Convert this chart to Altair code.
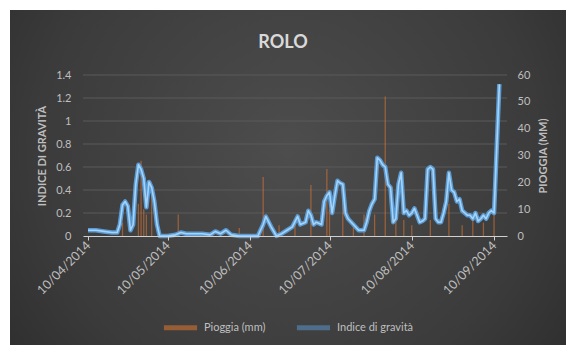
import altair as alt
import pandas as pd

START = pd.Timestamp("2014-04-10")

# Indice di gravità: (giorni dal 10/04/2014, valore)
gravita_giorni = [0, 3, 6, 9, 11, 12, 13, 14, 15, 16, 17, 18, 19, 20, 21, 22, 23, 24, 25, 26,
                  27, 30, 33, 35, 37, 40, 43, 46, 48, 50, 52, 54, 57, 64, 66, 67, 69, 71, 73, 75,
                  77, 79, 80, 82, 83, 84, 85, 86, 88, 89, 90, 91, 92, 93, 94, 95, 96, 97, 98, 100,
                  102, 104, 105, 106, 107, 108, 109, 110, 111, 112, 113, 114, 115, 116, 117, 118,
                  119, 120, 121, 122, 123, 124, 125, 126, 127, 128, 129, 130, 131, 132, 133, 134,
                  135, 136, 137, 138, 139, 140, 141, 142, 143, 144, 145, 146, 147, 148, 149, 150,
                  151, 152, 153, 155]
gravita_valori = [0.05, 0.05, 0.04, 0.03, 0.03, 0.10, 0.27, 0.30, 0.26, 0.05, 0.10, 0.45, 0.62, 0.58,
                  0.50, 0.25, 0.47, 0.42, 0.30, 0.10, 0.00, 0.00, 0.01, 0.03, 0.02, 0.02, 0.02, 0.01,
                  0.04, 0.02, 0.05, 0.01, 0.00, 0.00, 0.10, 0.17, 0.08, 0.00, 0.02, 0.05, 0.08, 0.17,
                  0.10, 0.12, 0.22, 0.18, 0.10, 0.12, 0.10, 0.30, 0.35, 0.38, 0.20, 0.35, 0.48, 0.46,
                  0.45, 0.20, 0.15, 0.10, 0.05, 0.05, 0.12, 0.22, 0.28, 0.32, 0.68, 0.66, 0.62, 0.60,
                  0.45, 0.42, 0.12, 0.15, 0.45, 0.55, 0.20, 0.22, 0.18, 0.20, 0.24, 0.18, 0.12, 0.13,
                  0.15, 0.58, 0.60, 0.58, 0.15, 0.12, 0.12, 0.20, 0.30, 0.55, 0.40, 0.38, 0.30, 0.32,
                  0.22, 0.20, 0.18, 0.18, 0.15, 0.20, 0.13, 0.15, 0.18, 0.15, 0.20, 0.22, 0.20, 1.32]

# Pioggia giornaliera (mm)
pioggia_giorni = [13, 19, 20, 21, 22, 24, 34, 57, 66, 72, 78, 84, 90, 91, 96, 100, 104, 108,
                  112, 116, 119, 122, 129, 136, 141, 145, 149, 153]
pioggia_mm = [5, 12, 28, 10, 8, 15, 8, 3, 22, 4, 6, 19, 25, 10, 18, 5, 8, 8,
              52, 10, 6, 4, 6, 12, 4, 6, 5, 8]

tick_date = ["2014-04-10", "2014-05-10", "2014-06-10", "2014-07-10", "2014-08-10", "2014-09-10"]
tick_indice = [0, 0.2, 0.4, 0.6, 0.8, 1, 1.2, 1.4]
tick_mm = [0, 10, 20, 30, 40, 50, 60]

SERIE = ["Pioggia (mm)", "Indice di gravità"]
COLORI = ["#ED7D31", "#5B9BD5"]
TXT = "#bfbfbf"
FONT = "Lato"

gravita = pd.DataFrame({
    "data": [START + pd.Timedelta(days=d) for d in gravita_giorni],
    "indice": gravita_valori,
})
pioggia = pd.DataFrame({
    "data": [START + pd.Timedelta(days=d) for d in pioggia_giorni],
    "mm": pioggia_mm,
})
griglia = pd.DataFrame({"indice": tick_indice[1:]})

x_scale = alt.Scale(domain=["2014-04-10", "2014-09-13"])
x_axis = alt.Axis(
    values=[pd.Timestamp(t).value // 10**6 for t in tick_date],
    format="%d/%m/%Y", labelAngle=315, labelAlign="right", labelBaseline="middle",
    labelColor=TXT, labelFontSize=12.5, labelFont=FONT, labelPadding=3,
    domainColor="#d0d0d0", domainWidth=1, tickColor="#d0d0d0", tickSize=4,
    grid=False, title=None, zindex=1,
)
color_scale = alt.Scale(domain=SERIE, range=COLORI)
legend = alt.Legend(
    orient="none", legendX=78, legendY=233, direction="horizontal",
    symbolType="stroke", symbolStrokeWidth=5, symbolSize=1100,
    labelColor=TXT, labelFontSize=11, labelFont=FONT, columnPadding=20,
    title="",
)
indice_scale = alt.Scale(domain=[0, 1.4])

# sfondo scuro con sfumatura radiale
sfondo = alt.Chart(alt.Data(values=[{}])).mark_rect(
    fill=alt.RadialGradient(
        gradient="radial", x1=0.5, y1=0.45, x2=0.5, y2=0.45, r1=0, r2=0.75,
        stops=[alt.GradientStop(color="#4d4d4d", offset=0),
               alt.GradientStop(color="#3b3b3b", offset=0.6),
               alt.GradientStop(color="#262626", offset=1)],
    )
).encode(
    x=alt.value(-73), x2=alt.value(483), y=alt.value(-65), y2=alt.value(270)
)

titolo = alt.Chart(alt.Data(values=[{}])).mark_text(
    text="ROLO", font=FONT, fontSize=18, fontWeight="bold", color="#d9d9d9",
    align="center", baseline="alphabetic",
).encode(x=alt.value(200), y=alt.value(-27))

# linee orizzontali della griglia sull'asse dell'indice
righe = alt.Chart(griglia).mark_rule(color="#5a5a5a", strokeWidth=1).encode(
    y=alt.Y("indice:Q", scale=indice_scale, axis=None)
)

barre = alt.Chart(pioggia).mark_bar(size=1.3, opacity=0.5).encode(
    x=alt.X("data:T", scale=x_scale, axis=x_axis),
    y=alt.Y("mm:Q", scale=alt.Scale(domain=[0, 60]),
            axis=alt.Axis(orient="right", values=tick_mm, grid=False,
                          domain=False, ticks=False, labelColor=TXT, labelFontSize=11,
                          labelFont=FONT, labelPadding=10, title="PIOGGIA (MM)",
                          titleAngle=270, titleBaseline="top", titleColor=TXT,
                          titleFontSize=11, titleFont=FONT, titleFontWeight="bold",
                          titlePadding=8, zindex=1)),
    color=alt.Color("serie:N", scale=color_scale, legend=legend),
).transform_calculate(serie="'Pioggia (mm)'")

y_left = alt.Y("indice:Q", scale=indice_scale,
               axis=alt.Axis(orient="left", values=tick_indice, format="~g",
                             grid=False, domain=False,
                             ticks=False, labelColor=TXT, labelFontSize=11, labelFont=FONT,
                             labelPadding=12, title="INDICE DI GRAVITÀ", titleColor=TXT,
                             titleFontSize=11, titleFont=FONT, titleFontWeight="bold",
                             titlePadding=8, zindex=1))

linea = alt.Chart(gravita).mark_line(strokeWidth=4.5, strokeJoin="round").encode(
    x=alt.X("data:T", scale=x_scale, axis=x_axis),
    y=y_left,
    color=alt.Color("serie:N", scale=color_scale, legend=legend),
).transform_calculate(serie="'Indice di gravità'")

luce = alt.Chart(gravita).mark_line(strokeWidth=1.6, color="#a6d4f7", strokeJoin="round").encode(
    x=alt.X("data:T", scale=x_scale, axis=x_axis),
    y=y_left,
)

linee = alt.layer(linea, luce)

chart = alt.layer(sfondo, titolo, righe, barre, linee).resolve_scale(
    y="independent"
).properties(
    width=424, height=161,
    autosize=alt.AutoSizeParams(type="none"),
    padding={"left": 83, "top": 75, "right": 59, "bottom": 109},
    background="white",
).configure_view(stroke=None)

chart.save("out.html", embed_options={"renderer": "svg", "actions": False})
